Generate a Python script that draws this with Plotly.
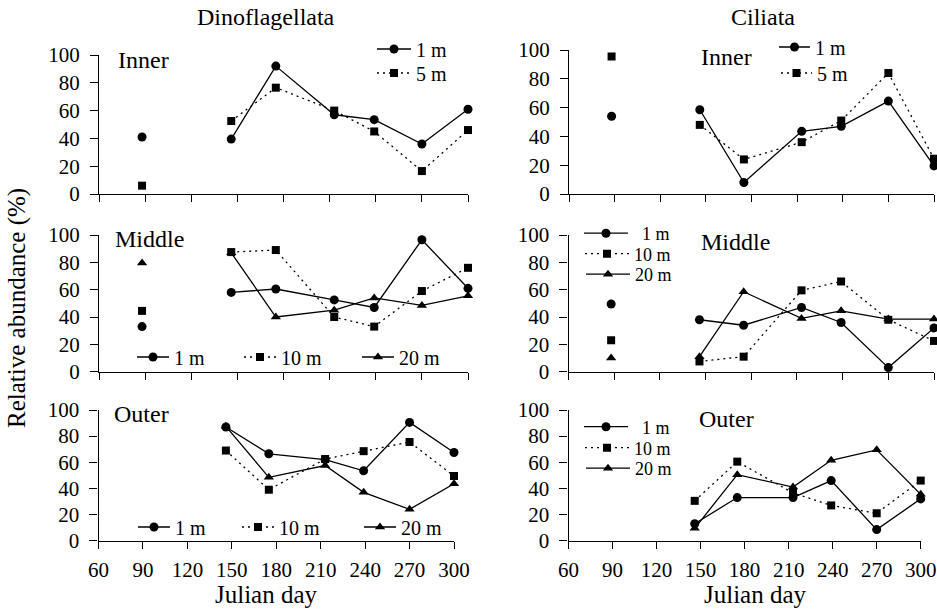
import plotly.graph_objects as go

# Sampling days (Julian day) and axis ticks
days = [88, 146, 175, 213, 239, 270, 300]
x_ticks = [60, 90, 120, 150, 180, 210, 240, 270, 300]
y_ticks = [0, 20, 40, 60, 80, 100]

# Relative abundance (%) of Dinoflagellata
dino_inner_1m = [41, 39.5, 92, 57, 53.5, 36, 61]
dino_inner_5m = [6, 52.5, 76.5, 60, 45, 16.5, 46]
dino_middle_1m = [33, 58, 60.5, 52.5, 47, 96.5, 61]
dino_middle_10m = [44.5, 87.5, 89, 40, 33, 59, 76]
dino_middle_20m = [79.5, 87, 40, 45, 54, 48.5, 55.5]
dino_outer_1m = [None, 87, 66.5, 62, 53.5, 90.5, 67.5]
dino_outer_10m = [None, 69, 39, 62.5, 68.5, 75.5, 49.5]
dino_outer_20m = [None, 87.5, 48.5, 57.5, 37, 24, 43.5]

# Relative abundance (%) of Ciliata
cil_inner_1m = [54, 58.5, 8, 43.5, 47, 64.5, 19.5]
cil_inner_5m = [95.5, 48, 24, 36, 51, 84, 24.5]
cil_middle_1m = [49.5, 38, 34, 47, 36, 3, 32]
cil_middle_10m = [23, 7.5, 11, 59.5, 66, 38, 22.5]
cil_middle_20m = [10, 11, 58.5, 39, 44.5, 38.5, 38.5]
cil_outer_1m = [None, 13, 33, 33, 46, 8.5, 32]
cil_outer_10m = [None, 30.5, 60.5, 36.5, 27, 21, 46]
cil_outer_20m = [None, 9.5, 50.5, 41, 61.5, 69.5, 35.5]

W, H = 937, 610
FONT = "Liberation Serif, Times New Roman, serif"
INK = "black"
FSP = "\u2007"  # figure space, keeps "1 m" flush right with "10 m"


def fx(px):
    return px / W


def fy(py):
    return 1 - py / H


STYLE = {
    "1 m": dict(dash="solid", symbol="circle", size=9),
    "5 m": dict(dash="2px,4px", symbol="square", size=8),
    "10 m": dict(dash="2px,4px", symbol="square", size=8),
    "20 m": dict(dash="solid", symbol="triangle-up", size=9),
}

# Each panel: frame in pixels (left, right, top, bottom), label, series with
# the legend key placement (key centre x, row centre y)
panels = [
    dict(frame=(99, 468, 55, 194), label="Inner", label_xy=(116, 60),
         series=[("1 m", dino_inner_1m, (393, 49)), ("5 m", dino_inner_5m, (393, 73))],
         legend_size=20, legend_iw=34, xlabels=False),
    dict(frame=(569, 934, 50, 194), label="Inner", label_xy=(699, 57),
         series=[("1 m", cil_inner_1m, (795, 47)), ("5 m", cil_inner_5m, (797, 73))],
         legend_size=20, legend_iw=31, xlabels=False),
    dict(frame=(99, 468, 235, 371.7), label="Middle", label_xy=(113, 239),
         series=[("1 m", dino_middle_1m, (153, 357)), ("10 m", dino_middle_10m, (260, 357)),
                 ("20 m", dino_middle_20m, (378, 357))],
         legend_size=20, legend_iw=32, xlabels=False),
    dict(frame=(568.5, 934, 235, 371.7), label="Middle", label_xy=(699, 242),
         series=[(FSP + "1 m", cil_middle_1m, (600, 233.5)), ("10 m", cil_middle_10m, (601, 254)),
                 ("20 m", cil_middle_20m, (602, 274.5))],
         legend_size=18, legend_iw=44, xlabels=False),
    dict(frame=(98.5, 454, 410, 540.7), label="Outer", label_xy=(112, 414),
         series=[("1 m", dino_outer_1m, (154, 527)), ("10 m", dino_outer_10m, (258, 527)),
                 ("20 m", dino_outer_20m, (380, 527))],
         legend_size=20, legend_iw=32, xlabels=True),
    dict(frame=(568.5, 920.7, 410, 540.7), label="Outer", label_xy=(697, 419),
         series=[(FSP + "1 m", cil_outer_1m, (600, 427)), ("10 m", cil_outer_10m, (601, 448)),
                 ("20 m", cil_outer_20m, (602, 468.5))],
         legend_size=18, legend_iw=44, xlabels=True),
]

fig = go.Figure()
layout = dict(
    width=W, height=H, autosize=False,
    margin=dict(l=0, r=0, t=0, b=0, pad=0, autoexpand=False),
    paper_bgcolor="white", plot_bgcolor="white",
    font=dict(family=FONT, color=INK),
    showlegend=True,
)
annotations = []
legend_count = 0

for i, p in enumerate(panels, start=1):
    sfx = "" if i == 1 else str(i)
    xa, ya = "x" + sfx, "y" + sfx
    left, right, top, bottom = p["frame"]

    for name, vals, (kx, ky) in p["series"]:
        st = STYLE[name.strip(FSP)]
        marker = dict(symbol=st["symbol"], size=st["size"], color=INK)
        line = dict(color=INK, width=1.3, dash=st["dash"])

        legend_count += 1
        leg = "legend" if legend_count == 1 else "legend%d" % legend_count
        layout[leg] = dict(
            x=fx(kx - 21), y=fy(ky), xanchor="left", yanchor="middle",
            xref="paper", yref="paper", orientation="v",
            bgcolor="rgba(0,0,0,0)", borderwidth=0,
            font=dict(size=p["legend_size"], family=FONT, color=INK),
            itemwidth=p["legend_iw"],
        )

        # early isolated sample
        if vals[0] is not None:
            fig.add_trace(go.Scatter(
                x=[days[0]], y=[vals[0]], mode="markers", marker=marker,
                xaxis=xa, yaxis=ya, showlegend=False, cliponaxis=False,
                hoverinfo="skip"))
        # seasonal series
        fig.add_trace(go.Scatter(
            x=days[1:], y=vals[1:], mode="lines+markers", name=name,
            marker=marker, line=line, xaxis=xa, yaxis=ya,
            legend=leg, cliponaxis=False))

    axis_common = dict(
        showline=True, linecolor=INK, linewidth=1.2, showgrid=False,
        zeroline=False, ticks="outside", tickcolor=INK, tickwidth=1.2,
        automargin=False,
    )
    layout["xaxis" + sfx] = dict(
        axis_common, domain=[fx(left), fx(right)], range=[60, 300],
        tickvals=x_ticks, ticklen=7, anchor=ya,
        showticklabels=p["xlabels"], tickfont=dict(size=21, family=FONT),
        ticklabelstandoff=3,
    )
    layout["yaxis" + sfx] = dict(
        axis_common, domain=[fy(bottom), fy(top)], range=[0, 100],
        tickvals=y_ticks, ticklen=8, anchor=xa,
        tickfont=dict(size=21, family=FONT), ticklabelstandoff=6,
    )

    lx, ly = p["label_xy"]
    annotations.append(dict(
        text=p["label"], x=fx(lx), y=fy(ly), xref="paper", yref="paper",
        xanchor="left", yanchor="middle", showarrow=False,
        font=dict(size=24, family=FONT)))

# Column titles, axis titles
for txt, cx in (("Dinoflagellata", 266), ("Ciliata", 763)):
    annotations.append(dict(
        text=txt, x=fx(cx), y=fy(17), xref="paper", yref="paper",
        xanchor="center", yanchor="middle", showarrow=False,
        font=dict(size=24, family=FONT)))
for cx in (266, 755):
    annotations.append(dict(
        text="Julian day", x=fx(cx), y=fy(594), xref="paper", yref="paper",
        xanchor="center", yanchor="middle", showarrow=False,
        font=dict(size=25, family=FONT)))
annotations.append(dict(
    text="Relative abundance (%)", x=fx(17), y=fy(308), xref="paper", yref="paper",
    xanchor="center", yanchor="middle", showarrow=False, textangle=-90,
    font=dict(size=25, family=FONT)))

layout["annotations"] = annotations
fig.update_layout(**layout)
fig.write_html("out.html")
